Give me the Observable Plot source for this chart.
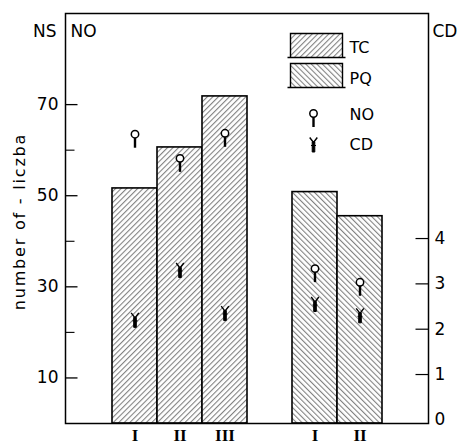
<!DOCTYPE html>
<html><head><meta charset="utf-8">
<script src="https://cdn.jsdelivr.net/npm/d3@7"></script>
<script src="https://cdn.jsdelivr.net/npm/@observablehq/plot@0.6"></script>
<style>body{margin:0;background:#fff}</style>
</head><body><div id="chart"></div>
<script>
// ---- data ----
const tcLabels = ["I", "II", "III"];
const tcValues = [51.6, 60.6, 71.8];
const pqLabels = ["I", "II"];
const pqValues = [50.8, 45.5];
const noValues = [63.5, 58.2, 63.7, 34.0, 31.0];   // left scale
const cdValues = [2.25, 3.35, 2.4, 2.6, 2.35];     // right scale (CD)
const leftMajorTicks = [10, 30, 50, 70];
const leftMinorTicks = [20, 40, 60];
const cdTicks = [0, 1, 2, 3, 4];
const legendBoxes = ["TC", "PQ"];
const legendMarkers = ["NO", "CD"];
const yLabel = "number of - liczba";

// right axis (CD) expressed on the left scale
const cdToY = d => 0.8 + d * 9.95;
const yToCd = v => Math.round((v - 0.8) / 9.95);

const bars = [
  ...tcLabels.map((l, i) => ({group: "TC", key: "TC-" + l, label: l, value: tcValues[i]})),
  ...pqLabels.map((l, i) => ({group: "PQ", key: "PQ-" + l, label: l, value: pqValues[i]}))
];
const labelOf = Object.fromEntries(bars.map(b => [b.key, b.label]));
const xDomain = ["pad1", ...bars.filter(b => b.group === "TC").map(b => b.key), "gap",
                 ...bars.filter(b => b.group === "PQ").map(b => b.key), "pad2"];
const markers = bars.map((b, i) => ({key: b.key, no: noValues[i], cd: cdToY(cdValues[i])}));

// ---- custom symbols ----
const tickSym = len => ({draw(ctx) { ctx.moveTo(0, 0); ctx.lineTo(len, 0); }});
const pinStem = {draw(ctx) { ctx.rect(-1.2, 3.5, 2.4, 10); }};
const wyeArms = {draw(ctx) { ctx.moveTo(-3.8, -5); ctx.lineTo(0, 0); ctx.lineTo(3.8, -5); }};
const wyeStem = {draw(ctx) { ctx.rect(-1.3, -0.5, 2.6, 10); ctx.moveTo(-2.5, 3); ctx.lineTo(2.5, 3); }};
const legendBox = {draw(ctx) {
  ctx.moveTo(-26, 12); ctx.lineTo(-26, -12); ctx.lineTo(26, -12); ctx.lineTo(26, 12);
  ctx.moveTo(-29, 12); ctx.lineTo(29, 12);
}};
const hatchFill = g => g === "TC" ? "url(#hTC)" : "url(#hPQ)";
const legendText = (t, dy) => Plot.text([t], {frameAnchor: "top-left", dx: 284, dy, textAnchor: "start", lineAnchor: "middle", fontSize: 16});

const plot = Plot.plot({
  width: 460, height: 445,
  marginLeft: 65, marginRight: 32, marginTop: 13, marginBottom: 22,
  style: {fontFamily: "DejaVu Sans, sans-serif", fontSize: "16px", background: "white", color: "black"},
  x: {type: "band", domain: xDomain, paddingInner: 0, paddingOuter: 0},
  y: {domain: [0, 90]},
  marks: [
    Plot.barY(bars.filter(b => b.group === "TC"), {x: "key", y: "value", fill: hatchFill("TC"), stroke: "black", strokeWidth: 1.6}),
    Plot.barY(bars.filter(b => b.group === "PQ"), {x: "key", y: "value", fill: hatchFill("PQ"), stroke: "black", strokeWidth: 1.6}),
    Plot.frame({stroke: "black", strokeWidth: 1.5}),
    // left axis
    Plot.axisY(leftMajorTicks, {anchor: "left", tickSize: 0, tickPadding: 7, label: null, fontSize: 17}),
    Plot.dot(leftMajorTicks, {y: d => d, frameAnchor: "left", symbol: tickSym(12), stroke: "black", strokeWidth: 1.3, fill: "none"}),
    Plot.dot(leftMinorTicks, {y: d => d, frameAnchor: "left", symbol: tickSym(9), stroke: "black", strokeWidth: 1.1, fill: "none"}),
    // right axis (CD)
    Plot.axisY(cdTicks.map(cdToY), {anchor: "right", tickSize: 0, tickPadding: 6, label: null, tickFormat: yToCd, fontSize: 17}),
    Plot.dot(cdTicks.filter(d => d > 0).map(cdToY), {y: d => d, frameAnchor: "right", symbol: tickSym(-13), stroke: "black", strokeWidth: 1.2, fill: "none"}),
    // x axis
    Plot.axisX(bars.map(b => b.key), {tickSize: 0, tickPadding: 5, label: null, tickFormat: k => labelOf[k],
      fontFamily: "Liberation Serif, serif", fontSize: 17, fontWeight: "bold"}),
    // NO markers
    Plot.dot(markers, {x: "key", y: "no", symbol: pinStem, fill: "black", stroke: "none"}),
    Plot.dot(markers, {x: "key", y: "no", r: 3.7, fill: "white", stroke: "black", strokeWidth: 1.5}),
    // CD markers
    Plot.dot(markers, {x: "key", y: "cd", symbol: wyeArms, fill: "none", stroke: "black", strokeWidth: 1.4}),
    Plot.dot(markers, {x: "key", y: "cd", symbol: wyeStem, fill: "black", stroke: "black", strokeWidth: 1}),
    // legend
    Plot.dot([legendBoxes[0]], {frameAnchor: "top-left", dx: 251, dy: 32, symbol: legendBox, fill: hatchFill("TC"), stroke: "black", strokeWidth: 1.4}),
    Plot.dot([legendBoxes[1]], {frameAnchor: "top-left", dx: 251, dy: 62, symbol: legendBox, fill: hatchFill("PQ"), stroke: "black", strokeWidth: 1.4}),
    legendText(legendBoxes[0], 34),
    legendText(legendBoxes[1], 65),
    Plot.dot([legendMarkers[0]], {frameAnchor: "top-left", dx: 248, dy: 100, symbol: pinStem, fill: "black", stroke: "none"}),
    Plot.dot([legendMarkers[0]], {frameAnchor: "top-left", dx: 248, dy: 100, r: 3.7, fill: "white", stroke: "black", strokeWidth: 1.5}),
    Plot.dot([legendMarkers[1]], {frameAnchor: "top-left", dx: 248, dy: 129, symbol: wyeArms, fill: "none", stroke: "black", strokeWidth: 1.4}),
    Plot.dot([legendMarkers[1]], {frameAnchor: "top-left", dx: 248, dy: 129, symbol: wyeStem, fill: "black", stroke: "black", strokeWidth: 1}),
    legendText(legendMarkers[0], 101),
    legendText(legendMarkers[1], 131),
    // corner labels
    Plot.text(["NS"], {frameAnchor: "top-left", dx: -9, dy: 18, textAnchor: "end", lineAnchor: "middle", fontSize: 17}),
    Plot.text(["NO"], {frameAnchor: "top-left", dx: 5, dy: 18, textAnchor: "start", lineAnchor: "middle", fontSize: 17}),
    Plot.text(["CD"], {frameAnchor: "top-right", dx: 4, dy: 18, textAnchor: "start", lineAnchor: "middle", fontSize: 17}),
    Plot.text([yLabel], {frameAnchor: "left", dx: -46, dy: 3, rotate: -90, textAnchor: "middle", lineAnchor: "middle", fontSize: 16})
  ]
});

document.getElementById("chart").appendChild(plot);
const svg = d3.select(plot);
svg.selectAll("text").filter(function() { return this.textContent === yLabel; })
  .style("letter-spacing", "1.8px");
const defs = svg.insert("defs", ":first-child");
[["hTC", 45], ["hPQ", -45]].forEach(([id, ang]) => {
  const p = defs.append("pattern").attr("id", id).attr("patternUnits", "userSpaceOnUse")
    .attr("width", 3.9).attr("height", 3.9).attr("patternTransform", `rotate(${ang})`);
  p.append("rect").attr("width", 3.9).attr("height", 3.9).attr("fill", "white");
  p.append("line").attr("x1", 0.6).attr("y1", 0).attr("x2", 0.6).attr("y2", 3.9)
    .attr("stroke", "#444").attr("stroke-width", 0.75);
});
</script>
</body></html>
